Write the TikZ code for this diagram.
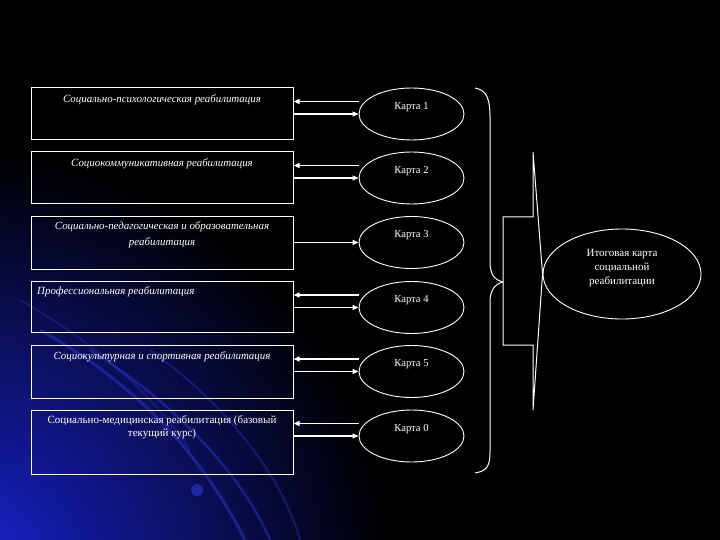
\documentclass[tikz,border=0pt]{standalone}
\usepackage{fontspec}
\setmainfont{Liberation Serif}
\usetikzlibrary{shapes.geometric,arrows.meta,calc}
\definecolor{glow}{RGB}{25,35,215}
\definecolor{streak}{RGB}{40,50,200}
\begin{document}
\begin{tikzpicture}[x=1pt,y=-1pt,
  boxnode/.style={draw=white, line width=1pt, rectangle, minimum width=262pt, inner sep=0pt},
  cardnode/.style={draw=white, line width=0.9pt, ellipse, minimum width=105pt, minimum height=52pt, inner sep=0pt},
  boxtext/.style={text=white, font=\fontsize{10.9}{14}\selectfont\itshape, align=center, inner sep=0pt},
  cardtext/.style={text=white, font=\fontsize{10.6}{13}\selectfont, align=center, inner sep=0pt},
  conn/.style={white, line width=1.2pt, -{Triangle[length=6pt,width=5pt]}},
  outline/.style={white, line width=1pt}
]
\useasboundingbox (0,0) rectangle (720,540);
\fill[black] (0,0) rectangle (720,540);
% blue glow and streaks
\begin{scope}
  \clip (0,0) rectangle (720,540);
  \shade[inner color=glow, outer color=black] (-40,580) circle (430);
  \draw[streak, opacity=0.55, line width=3pt] (40,330) .. controls (130,380) and (200,450) .. (245,540);
  \draw[streak, opacity=0.5, line width=2.5pt] (90,350) .. controls (170,400) and (240,470) .. (270,540);
  \draw[streak, opacity=0.4, line width=2pt] (150,350) .. controls (220,400) and (280,470) .. (300,540);
  \draw[streak, opacity=0.35, line width=2pt] (20,300) .. controls (90,340) and (150,390) .. (190,450);
  \fill[streak, opacity=0.7] (197,490) circle (6);
\end{scope}
% boxes
\node[boxnode, minimum height=52pt] (b1) at (162,114) {};
\node[boxnode, minimum height=52pt] (b2) at (162,178) {};
\node[boxnode, minimum height=52pt] (b3) at (162,243) {};
\node[boxnode, minimum height=51pt] (b4) at (162,306.5) {};
\node[boxnode, minimum height=53pt] (b5) at (162,371.5) {};
\node[boxnode, minimum height=64pt] (b6) at (162,442) {};
\node[boxtext] (t1) at (162,100) {Социально-психологическая реабилитация};
\node[boxtext] (t2) at (162,164) {Социокоммуникативная реабилитация};
\node[boxtext, font=\fontsize{10.9}{16}\selectfont\itshape] (t3) at (162,235) {Социально-педагогическая и образовательная\\реабилитация};
\node[boxtext, anchor=west] (t4) at (37,292) {Профессиональная реабилитация};
\node[boxtext] (t5) at (162,357) {Социокультурная и спортивная реабилитация};
\node[boxtext, font=\fontsize{11}{13}\selectfont] (t6) at (162,427.5) {Социально-медицинская реабилитация (базовый\\текущий курс)};
% cards
\node[cardnode] (k1) at (411.5,114) {};
\node[cardnode] (k2) at (411.5,178) {};
\node[cardnode] (k3) at (411.5,242.5) {};
\node[cardnode] (k4) at (411.5,307.5) {};
\node[cardnode] (k5) at (411.5,371.5) {};
\node[cardnode] (k6) at (411.5,436) {};
\node[cardtext] (c1) at (411.5,107) {Карта 1};
\node[cardtext] (c2) at (411.5,171) {Карта 2};
\node[cardtext] (c3) at (411.5,235.5) {Карта 3};
\node[cardtext] (c4) at (411.5,300.5) {Карта 4};
\node[cardtext] (c5) at (411.5,364.5) {Карта 5};
\node[cardtext] (c6) at (411.5,429) {Карта 0};
% connectors
\foreach \i in {1,2,4,5,6}{
  \draw[conn] (b\i.east |- k\i.west) -- (k\i.west);
  \draw[conn] ($(k\i.west)+(0,-12.5)$) -- ($(b\i.east |- k\i.west)+(0,-12.5)$);
}
\draw[conn] (b3.east |- k3.west) -- (k3.west);
% brace
\coordinate (bt) at (475,88);
\coordinate (btip) at (503,282);
\coordinate (bb) at (475,473);
\draw[outline] (bt) .. controls (487,90) and (490,100) .. (490,116) -- (490,262)
  .. controls (490,275) and (495,280) .. (btip)
  .. controls (495,284) and (490,290) .. (490,302) -- (490,452)
  .. controls (490,466) and (487,471) .. (bb);
% final card and block arrow
\node[draw=white, line width=0.9pt, ellipse, minimum width=158pt, minimum height=90pt, inner sep=0pt] (f) at (622,274) {};
\node[cardtext, font=\fontsize{11}{14}\selectfont] (ft) at (622,268) {Итоговая карта\\социальной\\реабилитации};
\draw[outline, fill=black] (btip |- 0,217) -- (533,217) -- (533,152) -- (f.west) -- (533,410) -- (533,345) -- (btip |- 0,345) -- cycle;
\end{tikzpicture}
\end{document}
